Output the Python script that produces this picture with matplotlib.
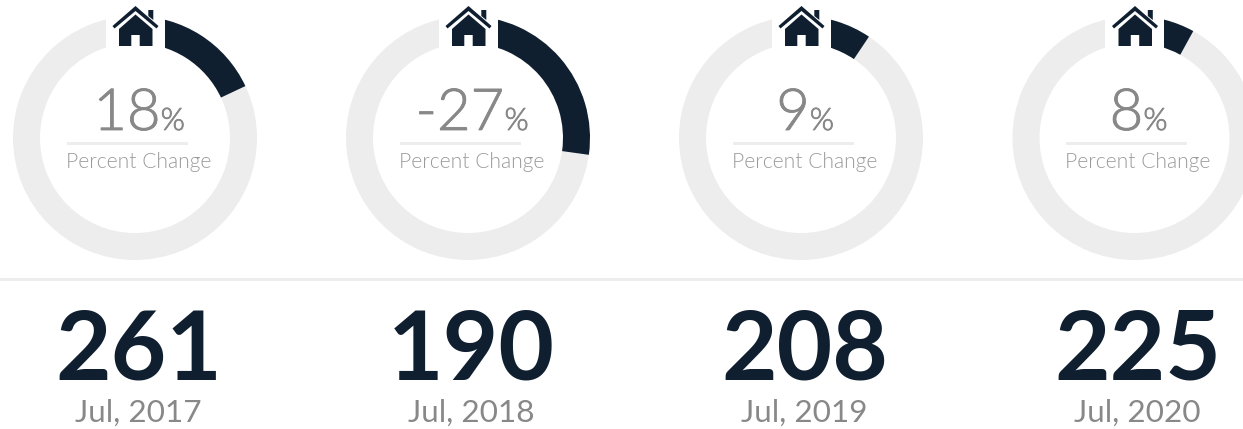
import matplotlib
matplotlib.use('Agg')
import matplotlib.pyplot as plt
import matplotlib.patheffects as pe
from matplotlib import font_manager
from matplotlib.font_manager import FontProperties
from matplotlib.patches import Wedge, Rectangle, PathPatch
from matplotlib.path import Path

# chart values
percent_change = [18, -27, 9, 8]
arc_percent = [18, 27.2, 9.4, 8]  # drawn arc length
totals = [261, 190, 208, 225]
months = ['Jul, 2017', 'Jul, 2018', 'Jul, 2019', 'Jul, 2020']

DARK = '#0f1f2f'
RING = '#ededed'
GREY = '#888888'
LIGHT_GREY = '#9a9a9a'

W, H, DPI = 1243, 429, 100
CENTERS = [135, 468, 801, 1134.5]
CY = 138
R_OUT = 122
R_IN = 95


def px(size):
    return size * 72 / DPI


def light_font(size):
    # weight names are not reliable for Lato's many cuts, so pick the file itself
    names = sorted({f.fname for f in font_manager.fontManager.ttflist if 'Lato' in f.name})
    for fname in names:
        if fname.split('/')[-1].lower() == 'lato-light.ttf':
            return FontProperties(fname=fname, size=px(size))
    raise SystemExit('fonts: ' + ' '.join(n.split('/')[-1] for n in names))


def house(ax, cx):
    # icon outline, relative to the ring centre
    roof = [(-22.5, -112), (0.5, -132), (23.5, -112), (21.5, -109.5), (0.5, -127), (-20.5, -109.5)]
    body = [(-16, -109), (0.5, -123.5), (17.5, -109), (17.5, -92), (4.7, -92), (4.7, -103),
            (-3.7, -103), (-3.7, -92), (-16, -92)]
    chimney = [(13.3, -128), (18.3, -128), (18.3, -118), (13.3, -122)]
    for pts in (roof, body, chimney):
        verts = [(cx + x, CY + y) for x, y in pts] + [(0, 0)]
        codes = [Path.MOVETO] + [Path.LINETO] * (len(pts) - 1) + [Path.CLOSEPOLY]
        ax.add_patch(PathPatch(Path(verts, codes), fc=DARK, ec='none', zorder=5))


def main():
    fig = plt.figure(figsize=(W / DPI, H / DPI), dpi=DPI, facecolor='white')
    ax = fig.add_axes([0, 0, 1, 1])
    ax.set_xlim(0, W)
    ax.set_ylim(H, 0)
    ax.axis('off')
    renderer = fig.canvas.get_renderer()

    ax.add_patch(Rectangle((0, 278), W, 3, fc=RING, ec='none'))
    thicker = [pe.withStroke(linewidth=0.6, foreground=GREY)]

    for cx, pct, arc, total, month in zip(CENTERS, percent_change, arc_percent, totals, months):
        ax.add_patch(Wedge((cx, CY), R_OUT, 0, 360, width=R_OUT - R_IN, fc=RING, ec='none'))
        # y axis is flipped, so going clockwise from the top means increasing angles from -90
        ax.add_patch(Wedge((cx, CY), R_OUT, -90, -90 + arc * 3.6, width=R_OUT - R_IN,
                           fc=DARK, ec='none', zorder=2))
        ax.add_patch(Rectangle((cx - 29, 0), 59, 48, fc='white', ec='none', zorder=3))
        house(ax, cx)

        # number and % sit side by side, centred as one block
        num = ax.text(cx, 130, str(pct), fontproperties=light_font(58), color=GREY,
                      ha='left', va='baseline', path_effects=thicker)
        sign = ax.text(cx, 130, '%', fontproperties=light_font(31), color=GREY,
                       ha='left', va='baseline', path_effects=thicker)
        w1 = num.get_window_extent(renderer).width
        w2 = sign.get_window_extent(renderer).width
        left = cx + 4 - (w1 + w2) / 2
        num.set_x(left)
        sign.set_x(left + w1)

        ax.add_patch(Rectangle((cx - 68, 142), 121, 3, fc=RING, ec='none'))
        ax.text(cx + 3.5, 168, 'Percent Change', fontproperties=light_font(21), color=LIGHT_GREY,
                ha='center', va='baseline')
        ax.text(cx + 3.5, 380, str(total), fontsize=px(96), color=DARK, family='Lato',
                fontweight='bold', ha='center', va='baseline')
        ax.text(cx + 3, 422, month, fontsize=px(31.5), color=GREY, family='Lato',
                ha='center', va='baseline')

    fig.savefig('out.png', dpi=DPI)


if __name__ == '__main__':
    main()
